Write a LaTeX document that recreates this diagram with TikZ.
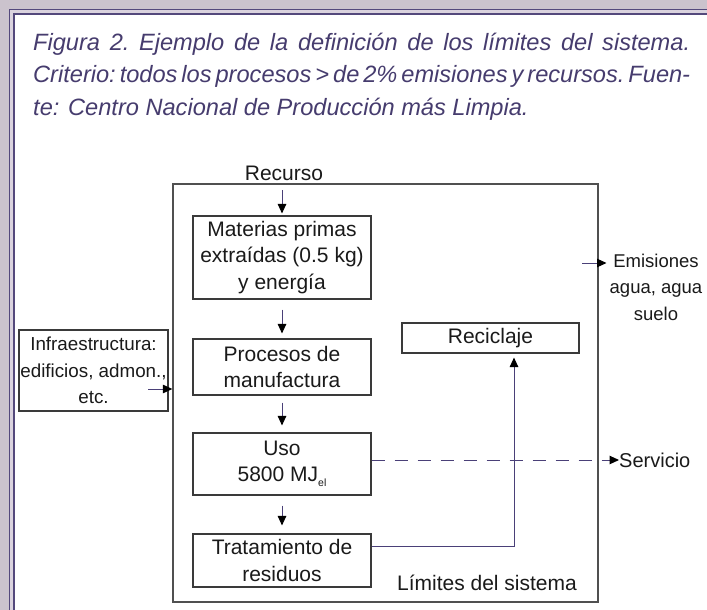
\documentclass[tikz,border=0pt]{standalone}
\usepackage{fontspec}
\setmainfont{Liberation Sans}
\usepackage{graphicx}
\usetikzlibrary{arrows.meta}
\definecolor{bgp}{HTML}{CBC3CD}
\definecolor{bandp}{HTML}{DAD3DE}
\definecolor{framep}{HTML}{54497C}
\definecolor{capc}{HTML}{463C6E}
\definecolor{conc}{HTML}{4A4078}
\definecolor{boxc}{HTML}{3A3A3A}
\definecolor{sysc}{HTML}{505050}
\definecolor{txt}{HTML}{1A1A1A}
\newcommand\justline[1]{\makebox[657pt][s]{\frenchspacing\spaceskip=0pt plus 1fil\relax #1}}
\begin{document}
\begin{tikzpicture}[x=1pt,y=-1pt,
  box/.style={draw=boxc, line width=1.1pt, inner sep=0pt, align=center, text=txt, font=\fontsize{21}{26.5}\selectfont},
  lbl/.style={inner sep=0pt, align=center, text=txt, font=\fontsize{21}{26.5}\selectfont},
  smalllbl/.style={inner sep=0pt, align=center, text=txt, font=\fontsize{18.5}{26.5}\selectfont},
  conn/.style={draw=conc, line width=1pt, -{Triangle[length=9.5pt,width=8.5pt,color=black]}},
  capt/.style={anchor=base west, inner sep=0pt, text=capc, font=\fontsize{23.6}{32}\selectfont\itshape}]
% background and frame
\useasboundingbox (0,0) rectangle (707,610);
\fill[bgp] (0,0) rectangle (707,610);
\fill[bandp] (9,9) rectangle (707,610);
\fill[white] (14.7,14.7) rectangle (707,610);
\draw[framep, line width=1.3pt] (9.6,610) -- (9.6,9.6) -- (707,9.6);
\draw[framep, line width=1.8pt] (13.8,610) -- (13.8,13.8) -- (707,13.8);
% caption
\node[capt] (c1) at (33,51) {\justline{Figura 2. Ejemplo de la definición de los límites del sistema.}};
\node[capt] (c2) at (33,83) {\justline{Criterio: todos los procesos > de 2\% emisiones y recursos. Fuen-}};
\node[capt] (c3) at (33,115) {te: Centro Nacional de Producción más Limpia.};
% system boundary
\node[draw=sysc, line width=1.3pt, minimum width=425pt, minimum height=418pt, inner sep=0pt] (sys) at (385.5,393) {};
\node[lbl] (rec) at (284,173) {Recurso};
\node[lbl] (lim) at (487,583) {Límites del sistema};
% process boxes
\node[box, minimum width=178pt, minimum height=83pt] (mat) at (282,257.5) {Materias primas\\extraídas (0.5 kg)\\y energía};
\node[box, minimum width=178pt, minimum height=56pt] (proc) at (282,367) {Procesos de\\manufactura};
\node[box, minimum width=178pt, minimum height=62pt] (uso) at (282,464) {Uso\\5800 MJ\raisebox{-5pt}{\fontsize{10.5}{10.5}\selectfont el}};
\node[box, minimum width=178pt, minimum height=53pt] (trat) at (282,560.5) {Tratamiento de\\residuos};
\node[box, minimum width=177pt, minimum height=30pt] (recic) at (490.5,338) {Reciclaje};
\node[box, font=\fontsize{18.8}{26.5}\selectfont, minimum width=149pt, minimum height=81pt] (infra) at (93.5,370.5) {Infraestructura:\\edificios, admon.,\\etc.};
% outside labels
\node[smalllbl] (emis) at (656,287) {Emisiones\\agua, agua\\suelo};
\node[lbl, anchor=west, font=\fontsize{20}{22}\selectfont] (serv) at (619,460) {Servicio};
% connectors
\coordinate (t1) at (282,190);
\draw[conn, shorten >=2pt] (t1) -- (mat.north);
\draw[conn, shorten <=10pt, shorten >=5pt] (mat.south) -- (proc.north);
\draw[conn, shorten <=7pt, shorten >=7pt] (proc.south) -- (uso.north);
\draw[conn, shorten <=10pt, shorten >=8pt] (uso.south) -- (trat.north);
\coordinate (i1) at (148,389);
\draw[conn] (i1) -- (sys.west |- i1);
\coordinate (e1) at (582,263);
\draw[conn, shorten >=3pt] (e1) -- (emis.west |- e1);
\coordinate (s1) at (0,460);
\draw[conn, dash pattern=on 13pt off 10pt] (uso.east |- s1) -- (serv.west |- s1);
\coordinate (r2) at (514,546);
\draw[conn, shorten >=4pt] (trat.east |- r2) -- (r2) -- (recic.south -| r2);
\end{tikzpicture}
\end{document}
